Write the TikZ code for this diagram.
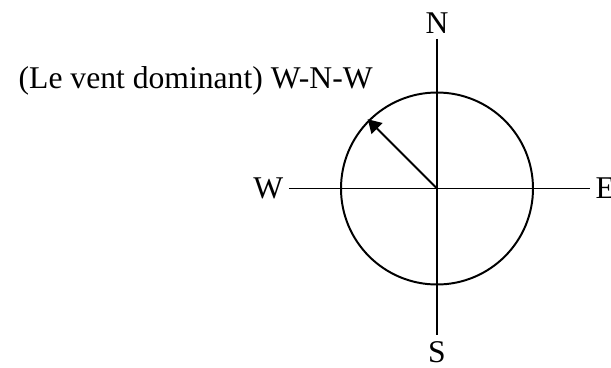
\documentclass[tikz,border=0pt]{standalone}
\usepackage{fontspec}
\setmainfont{Liberation Serif}
\usetikzlibrary{arrows.meta}

\begin{document}
\begin{tikzpicture}[font=\fontsize{22.5}{27}\selectfont, line width=1.4pt]

\useasboundingbox (-10.925,-4.4625) rectangle (4.35,4.7125);

% Points cardinaux
\node (n) at (0,4.14) {N};
\node (s) at (0,-4.08) {S};
\node (w) at (-4.22,0) {W};
\node (e) at (4.21,0) {E};

\draw (n) -- (s);
\draw (w) -- (e);

% Cercle
\coordinate (o) at (0,0);
\draw (o) circle (2.4);

% Vent dominant
\coordinate (wnw) at (135:2.45);
\draw[-{Triangle[length=3.3mm,width=3.8mm]}] (o) -- (wnw);

\node[anchor=base west] (vent) at (-10.6,2.5) {(Le vent dominant) W-N-W};

\end{tikzpicture}
\end{document}
